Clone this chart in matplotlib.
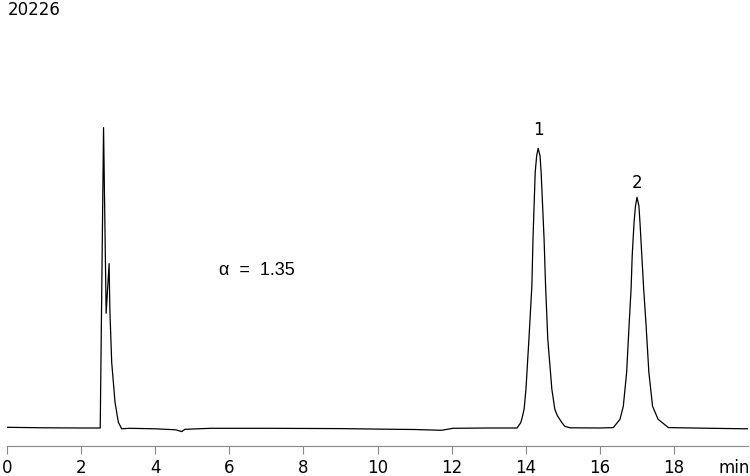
import matplotlib.pyplot as plt

# 読み取ったクロマトグラムの点 (時間[min], 信号)
time = [0.0, 1.0, 2.0, 2.51, 2.60, 2.67, 2.75, 2.77, 2.82, 2.91, 3.00, 3.09,
        3.3, 4.0, 4.55, 4.71, 4.80, 5.5, 7.0, 9.0, 10.0, 11.0, 11.73, 12.04,
        13.0, 13.77, 13.87, 13.91, 13.96, 14.01, 14.09, 14.17, 14.20, 14.23,
        14.26, 14.30, 14.34, 14.39, 14.42, 14.46, 14.50, 14.54, 14.60, 14.71,
        14.79, 14.86, 14.98, 15.06, 15.20, 16.0, 16.37, 16.55, 16.64, 16.73,
        16.80, 16.85, 16.88, 16.93, 16.97, 17.01, 17.06, 17.09, 17.14, 17.19,
        17.25, 17.33, 17.43, 17.58, 17.86, 19.0, 20.0]
signal = [1.0, 0.5, 0.3, 0.3, 300.7, 115, 164.7, 119, 66, 26, 6, -0.5,
          0, -0.5, -1.5, -3.3, -1, 0, 0, -0.3, -0.8, -1.2, -2, 0,
          0.3, 0.3, 5.7, 11, 19, 39, 89, 142.6, 189, 222.6,
          256, 272.6, 280, 272.6, 256, 222.6, 189, 142.6, 89, 39,
          19, 12.6, 5.7, 2, 0.5, 0.3, 0.7, 9, 22, 56,
          106, 139.3, 172.6, 206, 222.6, 231, 222.6, 206, 172.6, 139.3,
          106, 56, 22, 9, 0.7, 0, -0.5]

peak_labels = ['1', '2']
peak_label_x = [14.34, 17.01]
peak_label_y = [294.3, 241.3]
xticks = [0, 2, 4, 6, 8, 10, 12, 14, 16, 18]

fig = plt.figure(figsize=(7.5, 4.77), dpi=100)
ax = fig.add_axes([7.3 / 750, 30 / 477, 740.4 / 750, 447 / 477])

ax.plot(time, signal, color='black', linewidth=0.9)

for lab, tx, ty in zip(peak_labels, peak_label_x, peak_label_y):
    ax.text(tx, ty, lab, ha='center', va='baseline', fontsize=12)

ax.text(5.72, 154.3, 'α  =  1.35', family='Liberation Sans', fontsize=13,
        ha='left', va='baseline')

ax.set_xlim(0, 20)
ax.set_ylim(-17.7, 429.3)
ax.set_xticks(xticks)
ax.set_xticklabels([str(t) for t in xticks], fontsize=12)
ax.tick_params(axis='x', direction='out', length=6, width=0.8, color='#888888', pad=2.5)
ax.set_yticks([])
for side in ['top', 'right', 'left']:
    ax.spines[side].set_visible(False)
ax.spines['bottom'].set_color('#888888')
ax.spines['bottom'].set_linewidth(0.8)

fig.text(718 / 750, 4 / 477, 'min', fontsize=12, ha='left', va='baseline')
fig.text(8 / 750, 1 - 10 / 477, '20226', fontsize=12, ha='left', va='center')

plt.savefig('out.png', dpi=100)
